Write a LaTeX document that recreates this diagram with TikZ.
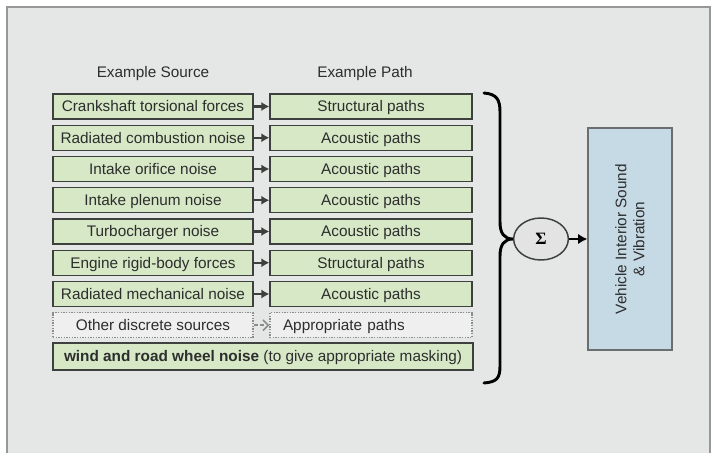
\documentclass[tikz,border=0pt]{standalone}
\usepackage{fontspec}
\setmainfont{Liberation Sans}
\newfontfamily\sumfont{Liberation Serif}
\usetikzlibrary{shapes.geometric,arrows.meta}
\definecolor{bggray}{RGB}{229,231,230}
\definecolor{framegray}{RGB}{150,152,152}
\definecolor{boxgreen}{RGB}{214,232,198}
\definecolor{boxgray}{RGB}{62,64,62}
\definecolor{textgray}{RGB}{45,45,45}
\definecolor{dotgray}{RGB}{140,140,140}
\definecolor{othfill}{RGB}{238,239,238}
\definecolor{outblue}{RGB}{198,218,230}
\definecolor{outgray}{RGB}{105,110,112}
\definecolor{sumfill}{RGB}{226,227,226}

\begin{document}
\begin{tikzpicture}[x=0.75pt, y=-0.75pt, font=\fontsize{11.5}{13.5}\selectfont,
    srcbox/.style={draw=boxgray, line width=1.1pt, fill=boxgreen, text=textgray,
        minimum width=150pt, minimum height=18.75pt, inner sep=0pt,
        text height=9pt, text depth=0.8pt},
    pathbox/.style={srcbox, minimum width=151.5pt},
    othbox/.style={draw=dotgray, densely dotted, line width=1pt, fill=othfill, text=textgray,
        minimum width=150pt, minimum height=18.75pt, inner sep=0pt,
        text height=9pt, text depth=0.8pt},
    head/.style={text=textgray},
    link/.style={boxgray, line width=1.6pt, -{Latex[length=6pt,width=7pt]}},
    dlink/.style={dotgray, densely dashed, line width=1.2pt, -{Straight Barb[length=4pt,width=8pt]}},
    sumnode/.style={ellipse, draw=boxgray, line width=1.1pt, fill=sumfill,
        minimum width=41pt, minimum height=31.5pt, inner sep=0pt},
    outbox/.style={draw=outgray, line width=1pt, fill=outblue, text=textgray,
        minimum width=166.5pt, minimum height=63pt, align=center, rotate=90}]
    \useasboundingbox (0,0) rectangle (717,453);

    % frame
    \fill [bggray] (7,7) rectangle (710,460);
    \draw [framegray, line width=1pt] (7,460) -- (7,7) -- (710,7) -- (710,460);

    \node [head] (hsrc) at (153,74) {Example Source};
    \node [head] (hpth) at (365,74) {Example Path};

    \foreach \i/\src/\pth in {1/Crankshaft torsional forces/Structural paths,
            2/Radiated combustion noise/Acoustic paths,
            3/Intake orifice noise/Acoustic paths,
            4/Intake plenum noise/Acoustic paths,
            5/Turbocharger noise/Acoustic paths,
            6/Engine rigid-body forces/Structural paths,
            7/Radiated mechanical noise/Acoustic paths} {
        \node [srcbox] (s\i) at (153,{106.5+31.25*(\i-1)}) {\src};
        \node [pathbox] (p\i) at (371,{106.5+31.25*(\i-1)}) {\pth};
        \draw [link] (s\i) -- (p\i);
    }

    \node [othbox] (s8) at (153,325.25) {Other discrete sources};
    \node [othbox, text width=132pt, align=left, inner xsep=9.75pt] (p8) at (371,325.25) {Appropriate paths};
    \draw [dlink] (s8) -- (p8);

    \node [srcbox, minimum width=315pt, minimum height=20.25pt] (wind) at (263,356.5)
        {\textbf{wind and road wheel noise} (to give appropriate masking)};

    \node [sumnode] (sum) at (541,239) {\sumfont\bfseries\fontsize{13}{13}\selectfont Σ};
    \node [outbox] (out) at (630,239) {Vehicle Interior Sound\\ \& Vibration};

    % brace
    \draw [black, line width=2.2pt, line cap=round] (484,93) .. controls (497,94) and (500,100) .. (500,112)
        -- (500,222) .. controls (500,233) and (504,239) .. (sum.west)
        .. controls (504,239) and (500,245) .. (500,256)
        -- (500,366) .. controls (500,378) and (497,382) .. (484,383);

    \draw [black, line width=1.6pt, -{Latex[length=7pt,width=8pt]}] (sum) -- (out);
\end{tikzpicture}
\end{document}
